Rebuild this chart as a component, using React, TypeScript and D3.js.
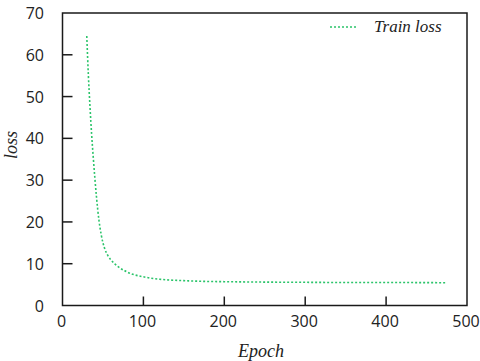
import React from "react";
import * as d3 from "d3";

const epochs = [30, 32, 34, 36, 38, 40, 42, 45, 48, 52, 56, 60, 65, 70, 77, 85, 99, 106, 120, 132, 150, 170, 200, 250, 300, 350, 400, 473];
const trainLoss = [64.5, 55, 47.5, 41, 35.5, 30.5, 26, 20.5, 16.8, 13.7, 12.0, 10.9, 9.9, 9.1, 8.3, 7.6, 6.9, 6.65, 6.3, 6.1, 5.95, 5.8, 5.7, 5.6, 5.55, 5.5, 5.5, 5.45];
const xTicks = [0, 100, 200, 300, 400, 500];
const yTicks = [0, 10, 20, 30, 40, 50, 60, 70];
const seriesName = "Train loss";
const xLabel = "Epoch";
const yLabel = "loss";

export default function App() {
  const W = 480, H = 361;
  const left = 62.5, right = 467, top = 13, bottom = 305.5;
  const x = d3.scaleLinear().domain([0, 500]).range([left, right]);
  const y = d3.scaleLinear().domain([0, 70]).range([bottom, top]);
  const line = d3.line<number>().x((_, i) => x(epochs[i])).y((d) => y(d)).curve(d3.curveMonotoneX);
  const green = "#2bc46a";
  const axisColor = "#1a1a1a";
  const tickFont = "'Open Sans', 'DejaVu Sans', sans-serif";
  const serif = "'Liberation Serif', 'DejaVu Serif', serif";
  return (
    <svg width={W} height={H} style={{ position: "absolute", left: 0, top: 0, background: "#fff" }}>
      <rect x={0} y={0} width={W} height={H} fill="#fff" />
      <path d={line(trainLoss) || ""} fill="none" stroke={green} strokeWidth={1.6} strokeDasharray="2,2" />
      <rect x={left} y={top} width={right - left} height={bottom - top} fill="none" stroke={axisColor} strokeWidth={1.5} />
      {xTicks.map((t) => (
        <g key={"x" + t}>
          {t > 0 && t < 500 && <line x1={x(t)} x2={x(t)} y1={bottom} y2={bottom - 9} stroke={axisColor} strokeWidth={1.5} />}
          <text x={x(t) - 1} y={327} textAnchor="middle" fontFamily={tickFont} fontSize={16} fill="#222">{t}</text>
        </g>
      ))}
      {yTicks.map((t) => (
        <g key={"y" + t}>
          {t > 0 && t < 70 && <line x1={left} x2={left + 10} y1={y(t)} y2={y(t)} stroke={axisColor} strokeWidth={1.5} />}
          <text x={44} y={y(t) + 6} textAnchor="end" fontFamily={tickFont} fontSize={16} fill="#222">{t}</text>
        </g>
      ))}
      <text x={261} y={357} textAnchor="middle" fontFamily={serif} fontStyle="italic" fontSize={18} fill="#222">{xLabel}</text>
      <text transform={`translate(17,145) rotate(-90)`} textAnchor="middle" fontFamily={serif} fontStyle="italic" fontSize={18} fill="#222">{yLabel}</text>
      <line x1={330} x2={358} y1={27} y2={27} stroke={green} strokeWidth={1.6} strokeDasharray="2,2" />
      <text x={374} y={32} fontFamily={serif} fontStyle="italic" fontSize={17} fill="#222">{seriesName}</text>
    </svg>
  );
}
